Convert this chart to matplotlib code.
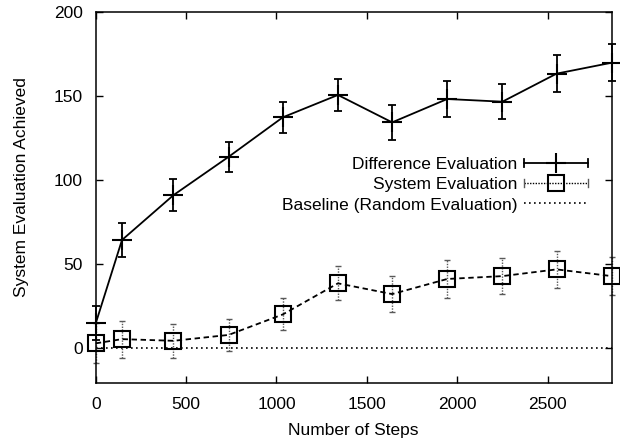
import matplotlib
matplotlib.use("Agg")
import matplotlib.pyplot as plt
from matplotlib.legend_handler import HandlerBase
from matplotlib.lines import Line2D

plt.rcParams['font.family'] = ['Liberation Sans', 'DejaVu Sans']

steps = [0, 145, 430, 735, 1035, 1340, 1640, 1945, 2250, 2550, 2855]
diff_vals = [15, 64.5, 91.2, 114, 137.5, 150.8, 134.5, 148.4, 146.8, 163.5, 170]
diff_err = [10, 10.2, 9.4, 9.0, 9.1, 9.6, 10.4, 10.8, 10.5, 10.9, 10.9]
sys_vals = [3, 5.5, 4.5, 8, 20.2, 38.7, 32.3, 41.3, 43, 47, 43]
sys_err = [12, 11, 10, 9.7, 9.5, 10.2, 10.9, 11.2, 10.7, 11.1, 11.4]
base_x = [0, 2855]
base_vals = [0.5, 0.5]

labels = ['Difference Evaluation', 'System Evaluation', 'Baseline (Random Evaluation)']

FS = 12.5

fig = plt.figure(figsize=(6.2, 4.41), dpi=100)
ax = fig.add_axes([0.1545, 0.1308, 0.8321, 0.8413])

# baseline
ax.plot(base_x, base_vals, ls=(0, (1, 2)), color='black', lw=1.2, clip_on=False)

# system evaluation
eb = ax.errorbar(steps, sys_vals, yerr=sys_err, fmt='none', ecolor='0.35',
                 elinewidth=1.0, capsize=2.5, capthick=1.0)
for lc in eb[2]:
    lc.set_linestyle((0, (1, 1)))
for c in eb.get_children():
    c.set_clip_on(False)
ax.plot(steps, sys_vals, ls=(0, (3, 2)), color='black', lw=1.3,
        marker='s', ms=12, mfc='none', mec='black', mew=1.5, clip_on=False)

# difference evaluation
eb2 = ax.errorbar(steps, diff_vals, yerr=diff_err, fmt='none', ecolor='black',
                  elinewidth=1.3, capsize=2.8, capthick=1.3)
for c in eb2.get_children():
    c.set_clip_on(False)
ax.plot(steps, diff_vals, ls='-', color='black', lw=1.3,
        marker='+', ms=14, mew=1.5, clip_on=False)

ax.set_xlim(0, 2855)
ax.set_ylim(-20.8, 200)
ax.set_xticks([0, 500, 1000, 1500, 2000, 2500])
ax.set_yticks([0, 50, 100, 150, 200])
ax.tick_params(direction='in', length=5, width=1, top=True, right=True,
               labelsize=FS, pad=9.5)
for s in ax.spines.values():
    s.set_linewidth(1.1)
ax.set_xlabel('Number of Steps', fontsize=FS, labelpad=8)
ax.set_ylabel('System Evaluation Achieved', fontsize=FS)
ax.yaxis.set_label_coords(-0.1295, 0.528)


class HBar(HandlerBase):
    def __init__(self, ls, marker=None, ms=10, caps=True, ccolor='black', lw=1.3):
        super().__init__()
        self.ls, self.marker, self.ms, self.caps, self.ccolor, self.lw = ls, marker, ms, caps, ccolor, lw

    def create_artists(self, legend, orig_handle, xdescent, ydescent, width,
                       height, fontsize, trans):
        y = height / 2 - ydescent
        x0 = -xdescent
        x1 = x0 + width
        arts = [Line2D([x0, x1], [y, y], ls=self.ls, color='black', lw=self.lw)]
        if self.caps:
            for xx in (x0, x1):
                arts.append(Line2D([xx, xx], [y - 3, y + 3], color=self.ccolor, lw=self.lw))
        if self.marker:
            arts.append(Line2D([(x0 + x1) / 2], [y], ls='none', marker=self.marker,
                               ms=self.ms, mfc='none', mec='black', mew=1.5))
        for a in arts:
            a.set_transform(trans)
        return arts


h1, h2, h3 = Line2D([], []), Line2D([], []), Line2D([], [])
ax.legend([h1, h2, h3], labels,
          handler_map={h1: HBar('-', '+', 14),
                       h2: HBar((0, (1, 1)), 's', 12, ccolor='0.35', lw=1.0),
                       h3: HBar((0, (1, 2)), None, caps=False, lw=1.2)},
          loc='upper right', bbox_to_anchor=(0.954, 0.611), frameon=False,
          markerfirst=False, fontsize=FS, handlelength=3.7, handletextpad=0.35,
          labelspacing=0.3, borderpad=0, borderaxespad=0)

fig.savefig('out.png', dpi=100)
